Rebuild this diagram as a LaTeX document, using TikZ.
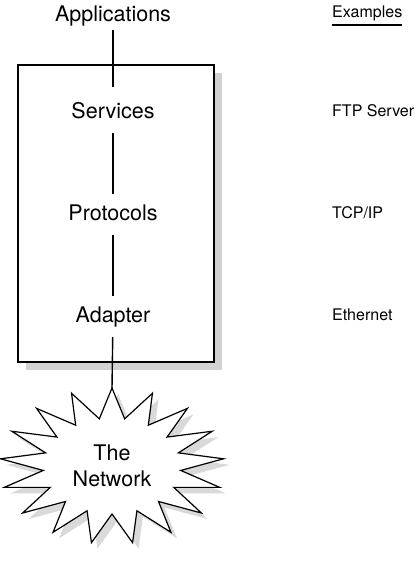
\documentclass[tikz,border=0pt]{standalone}
\usepackage{fontspec}
\setmainfont{TeX Gyre Heros}
\tikzset{
  layer/.style={font=\fontsize{21.5}{26}\selectfont, text height=16pt, text depth=5pt, inner sep=10pt, anchor=base},
  example/.style={font=\fontsize{16}{19}\selectfont, inner sep=0pt, anchor=base west},
  link/.style={line width=1.4pt},
}
\newcommand{\burst}{(270:112 and 78) \foreach \k in {1,...,17} {-- ({270+(\k-0.5)*360/17}:69 and 48) -- ({270+\k*360/17}:112 and 78)} -- cycle}
\begin{document}
\begin{tikzpicture}[x=1pt,y=-1pt]
    \useasboundingbox (0,0) rectangle (416,567);

    % Stack box
    \fill[gray!35] (26,73) rectangle (222,370);
    \draw[line width=1.4pt, fill=white] (18,65) rectangle (214,362);

    % Network burst
    \fill[gray!30, shift={(118,472)}] \burst;
    \draw[line width=1.2pt, fill=white, shift={(112,466)}] \burst;
    \coordinate (nettop) at (112,388);
    \node[font=\fontsize{21.5}{26}\selectfont, align=center] (net) at (112,466) {The\\Network};

    % Layers
    \node[font=\fontsize{21.5}{26}\selectfont, inner sep=3pt, anchor=base] (app) at (113,22) {Applications};
    \node[layer] (srv) at (113,118) {Services};
    \node[layer] (prt) at (113,220) {Protocols};
    \node[layer] (adp) at (113,322) {Adapter};
    \draw[link, shorten >=5pt] (app) -- (srv);
    \draw[link] (srv) -- (prt);
    \draw[link] (prt) -- (adp);
    \draw[link] (adp) -- (nettop);

    % Examples
    \node[example] (ex) at (332,18) {Examples};
    \draw[line width=1.6pt] ([yshift=-7pt]ex.base west) -- ([yshift=-7pt]ex.base east);
    \node[example] (ftp) at (332,117) {FTP Server};
    \node[example] (tcp) at (332,218) {TCP/IP};
    \node[example] (eth) at (332,320) {Ethernet};
\end{tikzpicture}
\end{document}
